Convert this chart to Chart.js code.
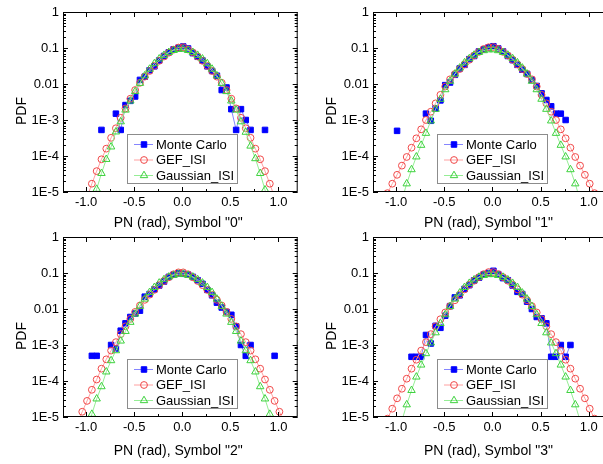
<!DOCTYPE html>
<html>
<head>
<meta charset="utf-8">
<script src="https://cdn.jsdelivr.net/npm/chart.js@4.4.0/dist/chart.umd.min.js"></script>
<style>
  html, body { margin: 0; padding: 0; background: #fff; overflow: hidden; }
  body { width: 603px; height: 464px; position: relative; }
  .panel { position: absolute; }
  canvas { display: block; }
</style>
</head>
<body>
<div class="panel" style="left:0;top:0"><canvas id="c0" width="303" height="232"></canvas></div>
<div class="panel" style="left:290px;top:0"><canvas id="c1" width="330" height="232"></canvas></div>
<div class="panel" style="left:0;top:222px"><canvas id="c2" width="303" height="242"></canvas></div>
<div class="panel" style="left:290px;top:222px"><canvas id="c3" width="330" height="242"></canvas></div>
<script>
// phase noise bins (rad), shared by every panel
const xs = [-1.09,-1.04,-0.99,-0.94,-0.89,-0.84,-0.79,-0.74,-0.69,-0.64,-0.59,-0.54,-0.49,-0.44,-0.39,-0.34,-0.29,-0.24,-0.19,-0.14,-0.09,-0.04,
            0.01,0.06,0.11,0.16,0.21,0.26,0.31,0.36,0.41,0.46,0.51,0.56,0.61,0.66,0.71,0.76,0.81,0.86,0.91,0.96,1.01,1.06];

// Symbol "0"
const mc0 = [null,null,null,null,null,5.3e-4,null,null,1.5e-3,5.3e-4,2.6e-3,3.4e-3,4.5e-3,0.013,0.016,0.024,0.031,0.045,0.060,0.076,0.092,0.102,
             0.110,0.097,0.072,0.057,0.045,0.031,0.023,0.017,0.0068,0.008,0.002,5.3e-4,0.002,0.001,5.3e-4,null,null,5.3e-4,null,null,null,null];
const gef0 = [null,null,7e-6,1.7e-5,3.8e-5,8.1e-5,1.6e-4,3.2e-4,5.9e-4,1.15e-3,2.1e-3,3.9e-3,6.8e-3,0.0108,0.016,0.023,0.032,0.044,0.058,0.074,0.090,0.103,
              0.105,0.091,0.075,0.058,0.044,0.032,0.023,0.016,0.0108,0.0068,0.0039,0.0021,1.15e-3,5.9e-4,3.2e-4,1.6e-4,8.1e-5,3.8e-5,1.7e-5,7e-6,null,null];
const gau0 = [null,null,null,4e-6,1.2e-5,3.3e-5,8.1e-5,1.8e-4,4.7e-4,9e-4,1.9e-3,3.4e-3,6.2e-3,0.0105,0.017,0.026,0.037,0.050,0.063,0.076,0.086,0.092,
              0.093,0.086,0.076,0.063,0.050,0.037,0.026,0.017,0.0105,0.0062,0.0034,0.0019,9e-4,4.6e-4,1.9e-4,8.5e-5,3.3e-5,1.15e-5,4e-6,null,null,null];

// Symbol "1"
const mc1 = [null,null,5e-4,null,null,null,null,null,1.5e-3,9.5e-4,2.1e-3,3.5e-3,9.3e-3,0.011,0.018,0.027,0.034,0.049,0.060,0.080,0.092,0.104,
             0.112,0.097,0.080,0.060,0.046,0.034,0.025,0.019,0.013,8.8e-3,5.5e-3,3.6e-3,2.4e-3,1.5e-3,1.5e-3,1e-3,null,null,null,null,null,null];
const gef1 = [9.3e-6,1.7e-5,3e-5,5.4e-5,9.4e-5,1.7e-4,3.1e-4,5.5e-4,1.0e-3,1.7e-3,2.9e-3,5e-3,8.5e-3,0.0135,0.019,0.026,0.035,0.047,0.062,0.078,0.094,0.105,
              0.106,0.094,0.078,0.062,0.047,0.035,0.026,0.019,0.0135,8.5e-3,5e-3,2.9e-3,1.7e-3,1.0e-3,5.5e-4,3.1e-4,1.7e-4,9.4e-5,5.4e-5,3e-5,1.7e-5,9.3e-6];
const gau1 = [null,null,null,6e-6,1.7e-5,4.2e-5,9.5e-5,2.0e-4,4.3e-4,9.5e-4,2.0e-3,3.8e-3,7e-3,0.012,0.019,0.028,0.039,0.051,0.064,0.076,0.085,0.090,
              0.090,0.085,0.076,0.064,0.051,0.039,0.028,0.019,0.012,7e-3,3.8e-3,2.0e-3,9.5e-4,4.3e-4,2.0e-4,9.5e-5,4.2e-5,1.7e-5,6e-6,null,null,null];

// Symbol "2"
const mc2 = [null,null,null,5e-4,5e-4,null,null,1e-3,8e-4,2.5e-3,4e-3,6e-3,7.5e-3,9e-3,0.022,0.026,0.035,0.045,0.058,0.078,0.090,0.098,
             0.095,0.090,0.078,0.063,0.050,0.034,0.024,0.015,0.011,8.3e-3,6.9e-3,3.3e-3,1e-3,5e-4,1e-3,null,null,null,null,5e-4,null,null];
const gef2 = [7e-6,1.4e-5,2.8e-5,5.7e-5,1.1e-4,2.2e-4,4e-4,7e-4,1.2e-3,2.0e-3,3.3e-3,5.3e-3,8.3e-3,0.0125,0.018,0.025,0.034,0.046,0.060,0.076,0.092,0.104,
              0.104,0.092,0.076,0.060,0.046,0.034,0.025,0.018,0.0125,8.3e-3,5.3e-3,3.3e-3,2.0e-3,1.2e-3,7e-4,4e-4,2.2e-4,1.1e-4,5.7e-5,2.8e-5,1.4e-5,7e-6];
const gau2 = [null,null,4e-6,1.2e-5,3.2e-5,7e-5,1.8e-4,3.7e-4,7e-4,1.3e-3,2.4e-3,4.3e-3,7.3e-3,0.012,0.019,0.029,0.040,0.053,0.066,0.078,0.087,0.093,
              0.093,0.087,0.078,0.066,0.053,0.040,0.029,0.019,0.012,7.3e-3,4.3e-3,2.4e-3,1.3e-3,7e-4,3.7e-4,1.8e-4,7e-5,3.2e-5,1.2e-5,4e-6,null,null];

// Symbol "3"
const mc3 = [null,null,null,null,null,4.7e-4,4.7e-4,4.7e-4,1.9e-3,1.1e-3,3.4e-3,3e-3,6.5e-3,0.012,0.021,0.024,0.036,0.046,0.062,0.074,0.092,0.100,
             0.115,0.093,0.072,0.063,0.045,0.030,0.026,0.016,0.010,6e-3,5.5e-3,4e-3,4.7e-4,4.7e-4,1e-3,4.7e-4,1e-3,null,null,null,null,null];
const gef3 = [9e-6,1.7e-5,3.3e-5,6.1e-5,1.16e-4,2.2e-4,3.9e-4,7e-4,1.2e-3,2.0e-3,3.3e-3,5.2e-3,8e-3,0.012,0.0175,0.025,0.035,0.047,0.061,0.077,0.093,0.106,
              0.106,0.093,0.077,0.061,0.047,0.035,0.025,0.0175,0.012,8e-3,5.2e-3,3.3e-3,2.0e-3,1.2e-3,7e-4,3.9e-4,2.2e-4,1.16e-4,6.1e-5,3.3e-5,1.7e-5,9e-6];
const gau3 = [null,null,null,8e-6,2.2e-5,5.5e-5,1.3e-4,2.8e-4,5.8e-4,1.15e-3,2.2e-3,4e-3,7e-3,0.0118,0.019,0.028,0.040,0.052,0.065,0.077,0.086,0.091,
              0.091,0.086,0.077,0.065,0.052,0.040,0.028,0.019,0.0118,7e-3,4e-3,2.2e-3,1.15e-3,5.8e-4,2.8e-4,1.3e-4,5.5e-5,2.2e-5,8e-6,null,null,null];

const seriesNames = ['Monte Carlo', 'GEF_ISI', 'Gaussian_ISI'];
const symbols = ['0', '1', '2', '3'];
const yTickText = ['1E-5', '1E-4', '1E-3', '0.01', '0.1', '1'];
const xMajor = [-1, -0.5, 0, 0.5, 1];
const xMinor = [-0.75, -0.25, 0.25, 0.75];

const FONT = "'Liberation Sans', Arial, sans-serif";

const panels = [
  { id: 'c0', mc: mc0, gef: gef0, gau: gau0, sym: symbols[0], top: 12, right: 3,  yw: 63, xh: 40, tOff: 31 },
  { id: 'c1', mc: mc1, gef: gef1, gau: gau1, sym: symbols[1], top: 12, right: 12, yw: 83, xh: 40, tOff: 31 },
  { id: 'c2', mc: mc2, gef: gef2, gau: gau2, sym: symbols[2], top: 15, right: 3,  yw: 63, xh: 47, tOff: 34 },
  { id: 'c3', mc: mc3, gef: gef3, gau: gau3, sym: symbols[3], top: 15, right: 12, yw: 83, xh: 47, tOff: 34 }
];

// frame, inward ticks, axis titles and the boxed legend
const decor = {
  id: 'decor',
  afterDatasetsDraw(chart) {
    const { ctx, chartArea: a, scales } = chart;
    const sx = scales.x, sy = scales.y;
    ctx.save();
    ctx.strokeStyle = '#000';
    ctx.lineWidth = 1;
    ctx.beginPath();
    const tickX = (v, len) => {
      const p = Math.round(sx.getPixelForValue(v)) + 0.5;
      if (p < a.left || p > a.right) return;
      ctx.moveTo(p, a.bottom); ctx.lineTo(p, a.bottom - len);
      ctx.moveTo(p, a.top); ctx.lineTo(p, a.top + len);
    };
    const tickY = (v, len) => {
      const p = Math.round(sy.getPixelForValue(v)) + 0.5;
      ctx.moveTo(a.left, p); ctx.lineTo(a.left + len, p);
      ctx.moveTo(a.right, p); ctx.lineTo(a.right - len, p);
    };
    xMajor.forEach(v => tickX(v, 5));
    xMinor.forEach(v => tickX(v, 3));
    for (let e = -5; e <= 0; e++) {
      tickY(Math.pow(10, e), 5);
      if (e < 0) for (let m = 2; m <= 9; m++) tickY(m * Math.pow(10, e), 3);
    }
    ctx.stroke();
    ctx.strokeRect(a.left + 0.5, a.top + 0.5, a.right - a.left - 1, a.bottom - a.top - 1);
    ctx.restore();
  },
  afterDraw(chart) {
    const { ctx, chartArea: a, scales } = chart;
    const p = chart.options.plugins.decor;
    ctx.save();
    // axis titles
    ctx.fillStyle = '#000';
    ctx.font = '14px ' + FONT;
    ctx.textAlign = 'center';
    ctx.textBaseline = 'middle';
    ctx.fillText(p.xTitle, scales.x.getPixelForValue(0) - 4, a.bottom + p.tOff);
    ctx.save();
    ctx.translate(a.left - 41, a.top + 99);
    ctx.rotate(-Math.PI / 2);
    ctx.fillText('PDF', 0, 0);
    ctx.restore();

    // legend box
    const bx = Math.round(a.left) + 64, by = Math.round(a.top) + 122;
    ctx.fillStyle = '#fff';
    ctx.fillRect(bx, by, 111, 50);
    ctx.strokeStyle = '#8c8c8c';
    ctx.strokeRect(bx + 0.5, by + 0.5, 110, 49);
    ctx.font = '13px ' + FONT;
    ctx.textAlign = 'left';
    chart.data.datasets.forEach((d, r) => {
      const y = by + 10.5 + r * 15.5;
      ctx.strokeStyle = d.borderColor;
      ctx.lineWidth = 1;
      ctx.beginPath();
      ctx.moveTo(bx + 7, y); ctx.lineTo(bx + 26, y);
      ctx.stroke();
      ctx.fillStyle = d.pointBackgroundColor;
      ctx.strokeStyle = d.pointBorderColor;
      Chart.helpers.drawPoint(ctx, { pointStyle: d.pointStyle, radius: d.pointRadius, rotation: 0, borderWidth: 1 }, bx + 17, y);
      ctx.fillStyle = '#000';
      ctx.fillText(d.label, bx + 29, y + 0.5);
    });
    ctx.restore();
  }
};

function makeChart(p) {
  const pts = arr => xs.map((x, i) => ({ x: x, y: arr[i] }));
  new Chart(document.getElementById(p.id), {
    type: 'line',
    data: {
      datasets: [
        {
          label: seriesNames[0], data: pts(p.mc), order: 3,
          borderColor: '#8585ff', borderWidth: 1,
          pointStyle: 'rect', pointRadius: 3.9, pointBorderWidth: 1,
          pointBackgroundColor: '#0000ff', pointBorderColor: '#0000ff'
        },
        {
          label: seriesNames[1], data: pts(p.gef), order: 2,
          borderColor: '#ffa0a0', borderWidth: 1,
          pointStyle: 'circle', pointRadius: 3.4, pointBorderWidth: 1,
          pointBackgroundColor: 'rgba(255,255,255,0)', pointBorderColor: '#f04848'
        },
        {
          label: seriesNames[2], data: pts(p.gau), order: 1,
          borderColor: '#95ee95', borderWidth: 1,
          pointStyle: 'triangle', pointRadius: 4.3, pointBorderWidth: 1,
          pointBackgroundColor: 'rgba(255,255,255,0)', pointBorderColor: '#3ed23e'
        }
      ]
    },
    options: {
      responsive: false,
      animation: false,
      devicePixelRatio: 1,
      spanGaps: false,
      layout: { padding: { left: 0, top: p.top, right: p.right, bottom: 0 } },
      plugins: {
        legend: { display: false },
        tooltip: { enabled: false },
        decor: { xTitle: 'PN (rad), Symbol "' + p.sym + '"', tOff: p.tOff }
      },
      scales: {
        x: {
          type: 'linear', min: -1.24, max: 1.2,
          grid: { display: false, drawTicks: false },
          border: { display: false },
          ticks: {
            stepSize: 0.5, includeBounds: false, autoSkip: false, maxRotation: 0,
            padding: 3, color: '#000', font: { family: FONT, size: 13 },
            callback: v => v.toFixed(1)
          },
          afterFit: s => { s.height = p.xh; }
        },
        y: {
          type: 'logarithmic', min: 1e-5, max: 1,
          grid: { display: false, drawTicks: false },
          border: { display: false },
          ticks: {
            autoSkip: false, padding: 4, color: '#000', font: { family: FONT, size: 13 },
            callback: v => {
              const e = Math.log10(v), r = Math.round(e);
              return Math.abs(e - r) < 1e-6 ? yTickText[r + 5] : '';
            }
          },
          afterFit: s => { s.width = p.yw; }
        }
      }
    },
    plugins: [decor]
  });
}

panels.forEach(makeChart);
</script>
</body>
</html>
